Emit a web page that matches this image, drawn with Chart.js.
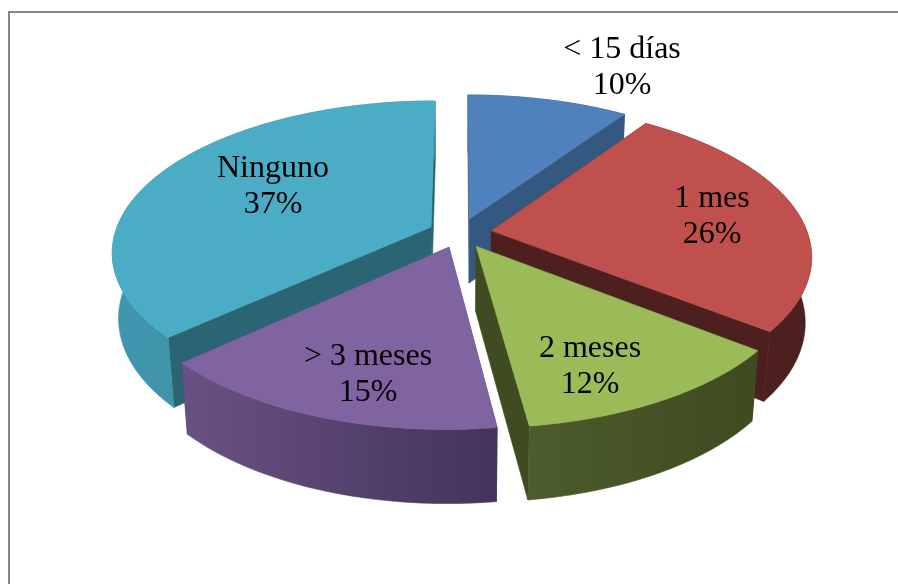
<!DOCTYPE html>
<html>
<head>
<meta charset="utf-8">
<script src="https://cdn.jsdelivr.net/npm/chart.js@4"></script>
<style>
  html, body { margin: 0; padding: 0; background: #fff; }
  #frame { position: absolute; left: 8px; top: 11px; right: 0; bottom: 0; border-left: 2px solid #868686; border-top: 2px solid #868686; }
  #pie { position: absolute; left: 0; top: 0; }
</style>
</head>
<body>
<div id="frame"></div>
<canvas id="pie" width="898" height="584"></canvas>
<script>
const categories = ["< 15 días", "1 mes", "2 meses", "> 3 meses", "Ninguno"];
const percentValues = [9.6, 26.0, 12.3, 15.3, 36.8];
const topColors = ["#4f81bd", "#c0504d", "#9bbb59", "#8064a2", "#4bacc6"];
const sideColors = ["#34587f", "#4e1f1f", "#3f4b21", "#43345a", "#2b6473"];

// lighter and darker end of the outer wall, left to right
const wallLeft = ["#34587f", "#4e1f1f", "#4c5c2c", "#6a5183", "#4096ae"];
const wallRight = ["#34587f", "#4e1f1f", "#3e4a20", "#43345a", "#3a8aa0"];

// slices are painted back to front
const drawOrder = [0, 4, 1, 3, 2];

// text centres, in pixels
const labelCentres = [[622, 68], [712, 217], [590, 367], [368, 375], [273, 187]];

// how the flat pie is tilted into perspective
const view = { cx: 460, cy: 233, ax: 316, ay: 148, persp: 0.16, drop: 66, shrink: 0.018 };

function project(X, Y, bottom) {
  const d = 1 + view.persp * Y + (bottom ? view.shrink : 0);
  return {
    x: view.cx + (view.ax * X) / d,
    y: view.cy + (-view.ay * Y + (bottom ? view.drop : 0)) / d,
  };
}

function sliceGeometry(arc) {
  const p = arc.getProps(["startAngle", "endAngle", "outerRadius"], true);
  const off = arc.options.offset / (p.outerRadius + arc.options.offset);
  const a0 = p.startAngle + Math.PI / 2;
  const a1 = p.endAngle + Math.PI / 2;
  const mid = (a0 + a1) / 2;
  const ox = off * Math.sin(mid);
  const oy = off * Math.cos(mid);
  const rim = [];
  const steps = 80;
  for (let i = 0; i <= steps; i++) {
    const a = a0 + ((a1 - a0) * i) / steps;
    rim.push([ox + Math.sin(a), oy + Math.cos(a)]);
  }
  return { apex: [ox, oy], rim: rim };
}

function fillPoly(ctx, pts, fill) {
  ctx.beginPath();
  pts.forEach((q, i) => (i ? ctx.lineTo(q.x, q.y) : ctx.moveTo(q.x, q.y)));
  ctx.closePath();
  ctx.fillStyle = fill;
  ctx.strokeStyle = fill;
  ctx.lineWidth = 0.6;
  ctx.fill();
  ctx.stroke();
}

const pie3d = {
  id: "pie3d",
  beforeDatasetsDraw(chart) {
    const ctx = chart.ctx;
    const arcs = chart.getDatasetMeta(0).data;
    drawOrder.forEach((i) => {
      const g = sliceGeometry(arcs[i]);
      const topRim = g.rim.map((q) => project(q[0], q[1], false));
      const lowRim = g.rim.map((q) => project(q[0], q[1], true));
      const apexTop = project(g.apex[0], g.apex[1], false);
      const apexLow = project(g.apex[0], g.apex[1], true);
      const last = g.rim.length - 1;

      // the two straight walls
      fillPoly(ctx, [apexTop, topRim[0], lowRim[0], apexLow], sideColors[i]);
      fillPoly(ctx, [apexTop, topRim[last], lowRim[last], apexLow], sideColors[i]);

      // outer curved wall
      const xs = topRim.concat(lowRim).map((q) => q.x);
      const grad = ctx.createLinearGradient(Math.min(...xs), 0, Math.max(...xs), 0);
      grad.addColorStop(0, wallLeft[i]);
      grad.addColorStop(1, wallRight[i]);
      fillPoly(ctx, topRim.concat(lowRim.slice().reverse()), grad);

      // top face
      fillPoly(ctx, [apexTop].concat(topRim), topColors[i]);
    });

    // labels
    ctx.fillStyle = "#000";
    ctx.font = '32px "Liberation Serif"';
    ctx.textAlign = "center";
    ctx.textBaseline = "middle";
    categories.forEach((name, i) => {
      const c = labelCentres[i];
      ctx.fillText(name, c[0], c[1] - 18);
      ctx.fillText(Math.round(percentValues[i]) + "%", c[0], c[1] + 18);
    });
    return false;
  },
};

new Chart(document.getElementById("pie"), {
  type: "pie",
  data: {
    labels: categories,
    datasets: [{ data: percentValues, backgroundColor: topColors, borderWidth: 0, offset: 31 }],
  },
  options: {
    responsive: false,
    animation: false,
    layout: { padding: 0 },
    plugins: { legend: { display: false }, tooltip: { enabled: false } },
  },
  plugins: [pie3d],
});
</script>
</body>
</html>
